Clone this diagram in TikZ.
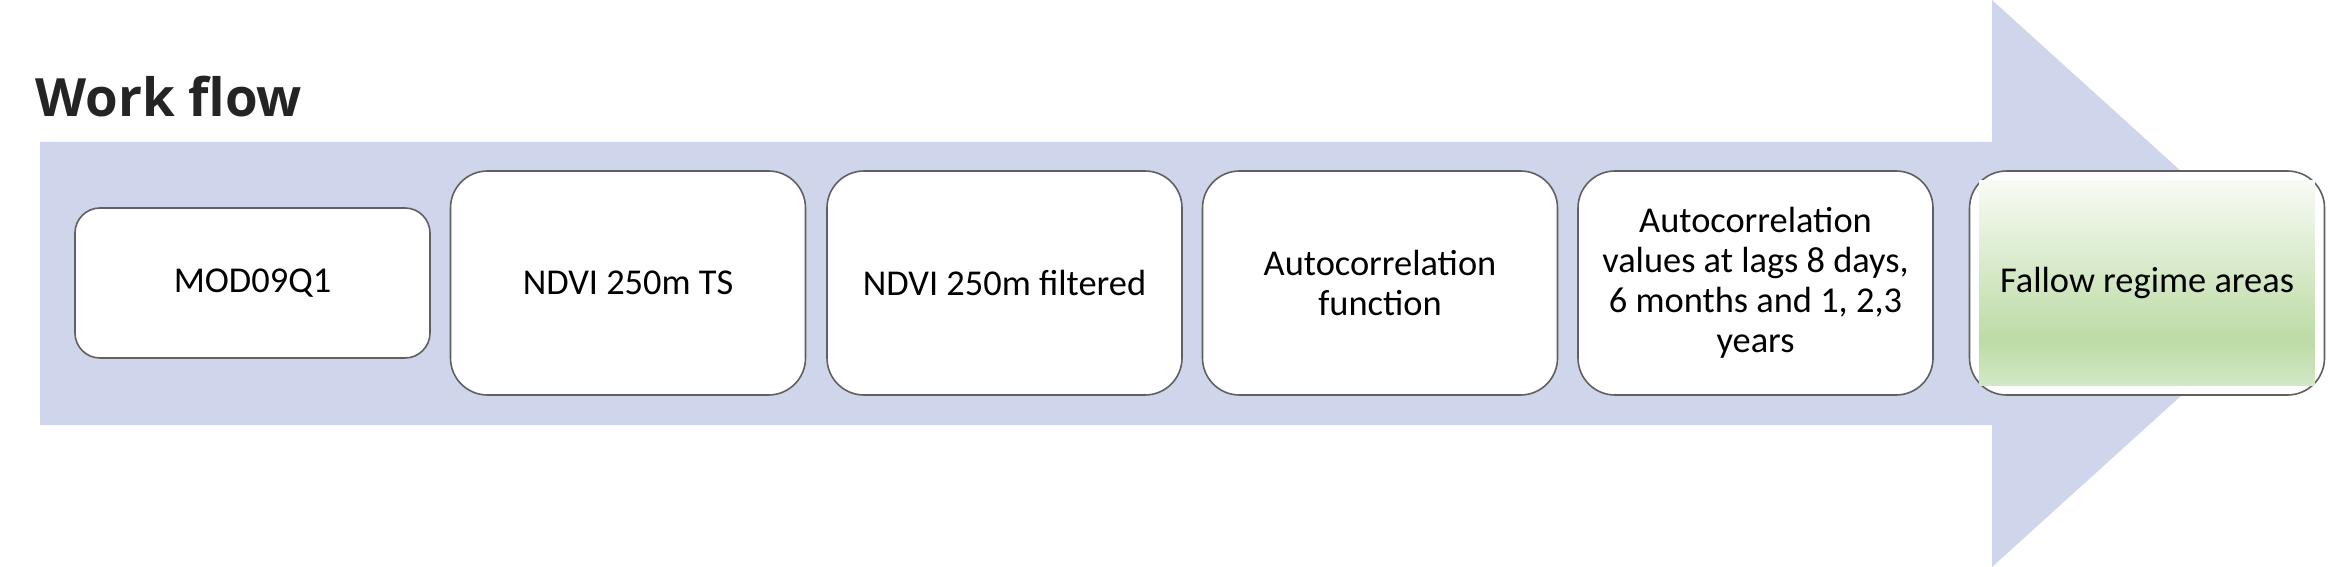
\documentclass[tikz,border=0pt]{standalone}
\usepackage{fontspec}
\setmainfont{Carlito}
\newfontfamily\titlefont{Open Sans}
\usetikzlibrary{calc}

\definecolor{bandblue}{HTML}{CFD5EA}
\definecolor{boxline}{HTML}{606060}
\definecolor{titlegray}{HTML}{242424}
\definecolor{greentop}{HTML}{F8FBF5}
\definecolor{greenmid}{HTML}{BCDBA5}
\definecolor{greenlow}{HTML}{D3E8C6}
\pgfdeclareverticalshading{fallowgreen}{100bp}{color(0bp)=(greenlow); color(25bp)=(greenlow); color(36bp)=(greenmid); color(75bp)=(greentop); color(100bp)=(greentop)}

\tikzset{
  stepbox/.style={draw=boxline, line width=0.8pt, fill=white, rounded corners=18.5pt,
    minimum width=177.5pt, minimum height=112pt, inner sep=0pt, align=center,
    font=\fontsize{18.2}{20}\selectfont},
  smallbox/.style={stepbox, rounded corners=12.5pt, minimum height=75pt},
}

\begin{document}
\begin{tikzpicture}[x=0.5pt,y=-0.5pt]
\useasboundingbox (0,0) rectangle (2328,567);

% big arrow behind the steps
\coordinate (bandNW) at (40,142);
\coordinate (bandSW) at (40,425);
\coordinate (headN) at (1992,0);
\coordinate (headS) at (1992,567);
\coordinate (tip) at (2305,283.5);
\fill[bandblue] (bandNW) -- (1992,142) -- (headN) -- (tip) -- (headS) -- (1992,425) -- (bandSW) -- cycle;

\node[anchor=base west, text=titlegray, font=\titlefont\bfseries\fontsize{26.4}{30}\selectfont, inner sep=0pt] (title) at (35,117) {Work flow};

% steps
\node[smallbox] (mod) at (252.5,283) {MOD09Q1};
\node[stepbox] (ndvits) at (628,283) {NDVI 250m TS};
\node[stepbox] (ndvifilt) at (1004.5,283) {NDVI 250m filtered};
\node[stepbox] (acf) at (1380,283) {Autocorrelation\\function};
\node[stepbox] (acfvalues) at (1755.5,283) {Autocorrelation\\values at lags 8 days,\\6 months and 1, 2,3\\years};
\node[stepbox] (fallow) at (2147,283) {};
\shade[shading=fallowgreen] ($(fallow.north west)+(11,10)$) rectangle ($(fallow.south east)+(-11,-10)$);
\node[font=\fontsize{18.2}{20}\selectfont, inner sep=0pt] (fallowtext) at (fallow.center) {Fallow regime areas};
\end{tikzpicture}
\end{document}
